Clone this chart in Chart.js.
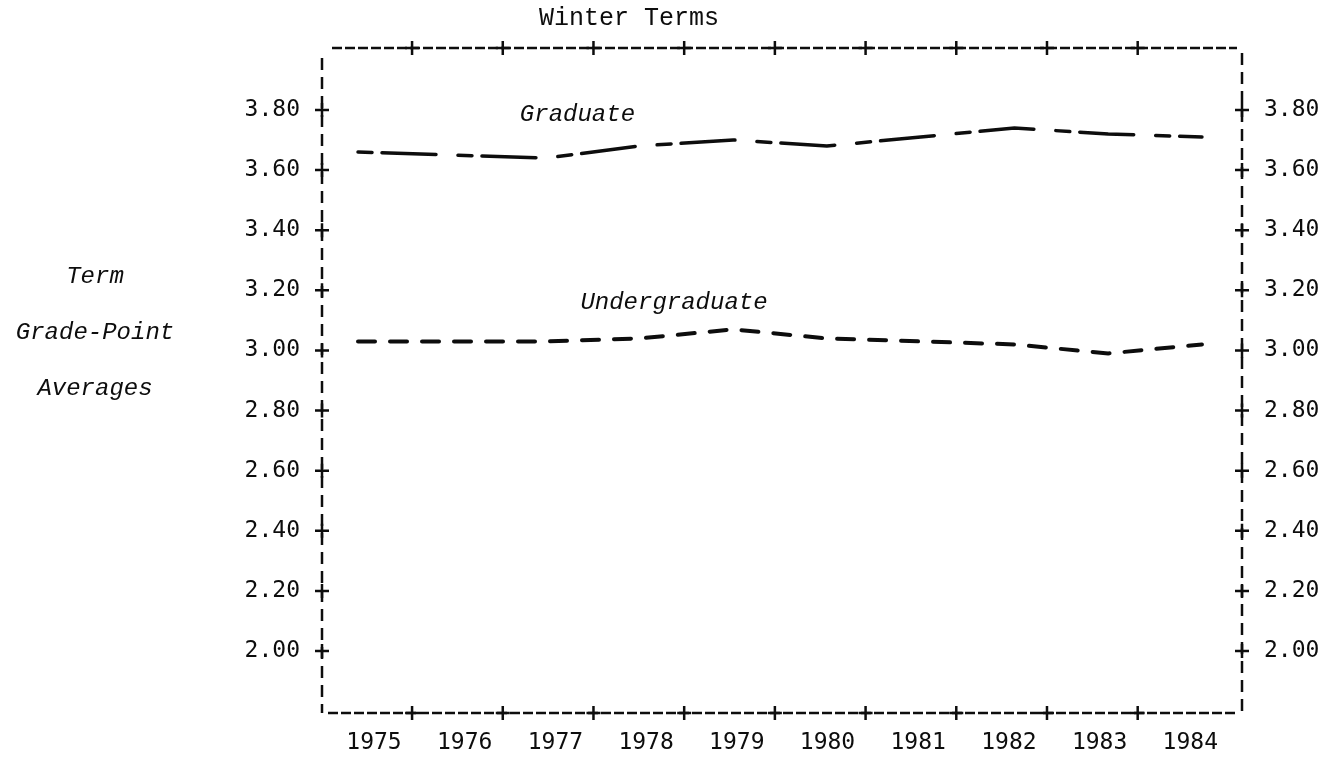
<!DOCTYPE html>
<html>
<head>
<meta charset="utf-8">
<script src="https://cdn.jsdelivr.net/npm/chart.js@4/dist/chart.umd.min.js"></script>
<style>
html, body { margin: 0; padding: 0; background: #fff; }
canvas { display: block; }
</style>
</head>
<body>
<canvas id="gpa-canvas" width="1343" height="761"></canvas>
<script>
const years = [1975, 1976, 1977, 1978, 1979, 1980, 1981, 1982, 1983, 1984];
const graduate = [3.66, 3.65, 3.64, 3.68, 3.70, 3.68, 3.71, 3.74, 3.72, 3.71];
const undergraduate = [3.03, 3.03, 3.03, 3.04, 3.07, 3.04, 3.03, 3.02, 2.99, 3.02];
const gpaTicks = [2.0, 2.2, 2.4, 2.6, 2.8, 3.0, 3.2, 3.4, 3.6, 3.8];
const seriesNames = ["Graduate", "Undergraduate"];
const titleText = "Winter Terms";
const axisTitle = ["Term", "Grade-Point", "Averages"];

// where the series names sit, in data units
const nameSpots = [{ x: 1977.34, y: 3.783 }, { x: 1978.37, y: 3.16 }];

const ink = "#0d0d0d";
const italicFont = "italic 24px 'Liberation Mono'";

const framePlugin = {
	id: "frame",
	afterDraw(chart) {
		const ctx = chart.ctx;
		const a = chart.chartArea;
		const yScale = chart.scales.y;
		const yearScale = chart.scales.years;
		const xScale = chart.scales.x;

		ctx.save();
		ctx.strokeStyle = ink;
		ctx.lineWidth = 2.5;

		// dashed box
		ctx.setLineDash([10, 3]);
		ctx.beginPath();
		ctx.moveTo(a.left + 10, a.top);
		ctx.lineTo(a.right - 5, a.top);
		ctx.moveTo(a.left + 6, a.bottom);
		ctx.lineTo(a.right - 6, a.bottom);
		ctx.stroke();

		ctx.setLineDash([12, 7]);
		ctx.beginPath();
		ctx.moveTo(a.left, a.top + 10);
		ctx.lineTo(a.left, a.bottom);
		ctx.moveTo(a.right, a.top + 5);
		ctx.lineTo(a.right, a.bottom);
		ctx.stroke();
		ctx.setLineDash([]);

		// plus marks on the box
		ctx.beginPath();
		gpaTicks.forEach((v) => {
			const py = yScale.getPixelForValue(v);
			[a.left, a.right].forEach((px) => {
				ctx.moveTo(px - 7, py);
				ctx.lineTo(px + 7, py);
				ctx.moveTo(px, py - 7);
				ctx.lineTo(px, py + 7);
			});
		});
		years.slice(0, -1).forEach((yr) => {
			const px = yearScale.getPixelForValue(yr + 0.42);
			[a.top, a.bottom].forEach((py) => {
				ctx.moveTo(px - 7, py);
				ctx.lineTo(px + 7, py);
				ctx.moveTo(px, py - 7);
				ctx.lineTo(px, py + 7);
			});
		});
		ctx.stroke();

		// texts
		ctx.fillStyle = ink;
		ctx.textAlign = "center";
		ctx.textBaseline = "middle";
		ctx.font = "25px 'Liberation Mono'";
		ctx.fillText(titleText, 629, 18);

		ctx.font = italicFont;
		axisTitle.forEach((t, i) => ctx.fillText(t, 95, 277 + i * 56));

		seriesNames.forEach((name, i) => {
			const s = nameSpots[i];
			ctx.fillText(name, xScale.getPixelForValue(s.x), yScale.getPixelForValue(s.y));
		});
		ctx.restore();
	},
};

const gpaCanvas = document.getElementById("gpa-canvas").getContext("2d");

const gpaChart = new Chart(gpaCanvas, {
	type: "line",
	data: {
		datasets: [
			{
				label: seriesNames[0],
				data: years.map((yr, i) => ({ x: yr, y: graduate[i] })),
				borderColor: ink,
				borderWidth: 3.5,
				borderDash: [14, 10, 54, 22],
				borderCapStyle: "round",
				pointRadius: 0,
				tension: 0,
			},
			{
				label: seriesNames[1],
				data: years.map((yr, i) => ({ x: yr, y: undergraduate[i] })),
				borderColor: ink,
				borderWidth: 4,
				borderDash: [17, 15],
				borderCapStyle: "round",
				pointRadius: 0,
				tension: 0,
			},
		],
	},
	options: {
		responsive: false,
		animation: false,
		layout: { padding: { top: 48, left: 0, right: 0, bottom: 0 } },
		plugins: {
			legend: { display: false },
			tooltip: { enabled: false },
		},
		scales: {
			x: {
				type: "linear",
				display: false,
				min: 1974.616,
				max: 1984.427,
			},
			years: {
				type: "linear",
				position: "bottom",
				min: 1974.427,
				max: 1984.57,
				afterBuildTicks: (s) => {
					s.ticks = years.map((v) => ({ value: v }));
				},
				afterFit: (s) => {
					s.height = 48;
				},
				grid: { display: false, drawTicks: false },
				border: { display: false },
				ticks: {
					autoSkip: false,
					maxRotation: 0,
					padding: 16,
					color: ink,
					font: { family: "DejaVu Sans Mono", size: 23 },
					callback: (v) => String(v),
				},
			},
			y: {
				position: "left",
				min: 1.794,
				max: 4.006,
				afterBuildTicks: (s) => {
					s.ticks = gpaTicks.map((v) => ({ value: v }));
				},
				afterFit: (s) => {
					s.width = 322;
				},
				grid: { display: false, drawTicks: false },
				border: { display: false },
				ticks: {
					padding: 22,
					color: ink,
					font: { family: "DejaVu Sans Mono", size: 23 },
					callback: (v) => Number(v).toFixed(2),
				},
			},
			y2: {
				position: "right",
				min: 1.794,
				max: 4.006,
				afterBuildTicks: (s) => {
					s.ticks = gpaTicks.map((v) => ({ value: v }));
				},
				afterFit: (s) => {
					s.width = 101;
				},
				grid: { display: false, drawTicks: false },
				border: { display: false },
				ticks: {
					padding: 22,
					color: ink,
					font: { family: "DejaVu Sans Mono", size: 23 },
					callback: (v) => Number(v).toFixed(2),
				},
			},
		},
	},
	plugins: [framePlugin],
});
</script>
</body>
</html>
